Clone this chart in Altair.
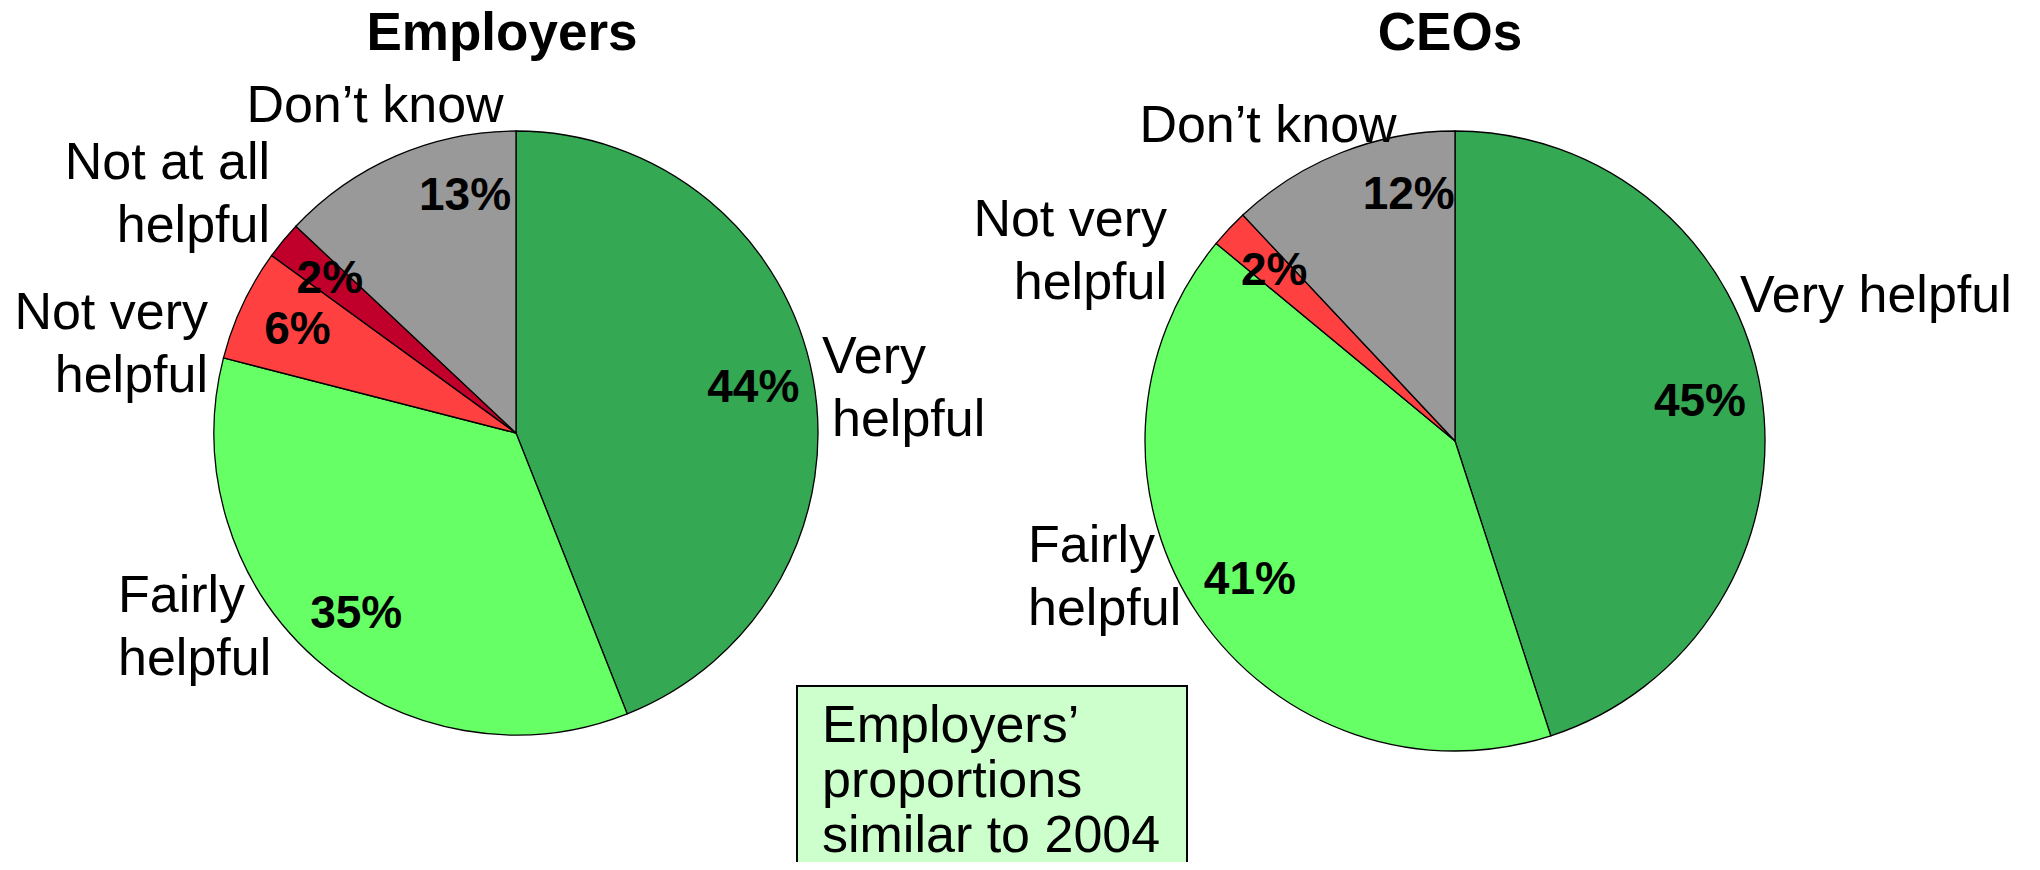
import altair as alt
import pandas as pd

# ---------------- data ----------------
categories = ["Very helpful", "Fairly helpful", "Not very helpful",
              "Not at all helpful", "Don’t know"]
employer_values = [44, 35, 6, 2, 13]

ceo_categories = ["Very helpful", "Fairly helpful", "Not very helpful", "Don’t know"]
ceo_values = [45, 41, 2, 12]

panel_titles = ["Employers", "CEOs"]
note_lines = ["Employers’", "proportions", "similar to 2004"]

# ---------------- style / layout ----------------
slice_colors = ["#35A853", "#66FF66", "#FF4040", "#C0002A", "#999999"]
FONT = "Liberation Sans"
PAGE_W, PAGE_H, M = 2040, 870, 8
W, H = PAGE_W - 2 * M, PAGE_H - 2 * M

pie_layout = {
    "Employers": dict(cx=516, cy=433, r=302, title_x=502),
    "CEOs": dict(cx=1455, cy=441, r=310, title_x=1450),
}
TITLE_BASELINE = 50
SHIFTED_PCT = "Don’t know"      # its percentage label is nudged, as in the original slide
SHIFT_DX, SHIFT_DY = 45, -15

# category label placement: (panel, category) -> (words on first line, x, first baseline, align, 2nd-line x shift)
label_layout = {
    ("Employers", "Don’t know"): (2, 375, 122, "center", 0),
    ("Employers", "Not at all helpful"): (3, 270, 179, "right", 0),
    ("Employers", "Not very helpful"): (2, 208, 329, "right", 0),
    ("Employers", "Very helpful"): (1, 822, 373, "left", 10),
    ("Employers", "Fairly helpful"): (1, 118, 612, "left", 0),
    ("CEOs", "Don’t know"): (2, 1268, 142, "center", 0),
    ("CEOs", "Not very helpful"): (2, 1167, 236, "right", 0),
    ("CEOs", "Very helpful"): (2, 1740, 312, "left", 0),
    ("CEOs", "Fairly helpful"): (1, 1028, 562, "left", 0),
}
LINE_H = 63

box = dict(x=797, x2=1187, y=686, y2=900)
note_x, note_first_baseline, note_line_h = 822, 742, 55

# ---------------- tables ----------------
def pie_frame(cats, vals):
    return pd.DataFrame({
        "category": cats,
        "value": vals,
        "order": list(range(len(cats))),
        "pct": [f"{v}%" for v in vals],
    })

frames = {"Employers": pie_frame(categories, employer_values),
          "CEOs": pie_frame(ceo_categories, ceo_values)}

label_rows = []
for (panel, cat), (nfirst, lx, ly, align, shift) in label_layout.items():
    words = cat.split()
    lines = [" ".join(words[:nfirst])]
    if nfirst < len(words):
        lines.append(" ".join(words[nfirst:]))
    for i, line in enumerate(lines):
        label_rows.append({"text": line, "x": lx + (shift if i else 0),
                           "y": ly + i * LINE_H, "align": align})
labels_df = pd.DataFrame(label_rows)

titles_df = pd.DataFrame({
    "text": panel_titles,
    "x": [pie_layout[t]["title_x"] for t in panel_titles],
    "y": [TITLE_BASELINE] * len(panel_titles),
})

note_df = pd.DataFrame({
    "text": note_lines,
    "x": [note_x] * len(note_lines),
    "y": [note_first_baseline + i * note_line_h for i in range(len(note_lines))],
})
box_df = pd.DataFrame([box])

# ---------------- chart ----------------
xs = alt.Scale(domain=[M, M + W], range=[0, W])
ys = alt.Scale(domain=[M, M + H], range=[0, H])

def pos(df):
    return alt.Chart(df).encode(
        x=alt.X("x:Q", scale=xs, axis=None),
        y=alt.Y("y:Q", scale=ys, axis=None),
    )

layers = []
theta_scale = alt.Scale(domain=[0, 100])
color_scale = alt.Scale(domain=categories, range=slice_colors)
is_shifted = alt.datum.category == SHIFTED_PCT
for name in panel_titles:
    p = pie_layout[name]
    df = frames[name]
    arcs = alt.Chart(df).mark_arc(outerRadius=p["r"], stroke="black", strokeWidth=1.3).encode(
        theta=alt.Theta("value:Q", stack=True, scale=theta_scale),
        order=alt.Order("order:Q"),
        color=alt.Color("category:N", scale=color_scale, legend=None),
        x=alt.value(p["cx"] - M),
        y=alt.value(p["cy"] - M),
    )
    layers.append(arcs)
    for shifted in (False, True):
        mark_kw = dict(radius=0.8 * p["r"], font=FONT, fontSize=46, fontWeight="bold",
                       color="black", align="center", baseline="middle")
        if shifted:
            mark_kw.update(dx=SHIFT_DX, dy=SHIFT_DY)
            text_enc = alt.condition(is_shifted, alt.Text("pct:N"), alt.value(""))
        else:
            text_enc = alt.condition(is_shifted, alt.value(""), alt.Text("pct:N"))
        pct = alt.Chart(df).mark_text(**mark_kw).encode(
            theta=alt.Theta("value:Q", stack=True, scale=theta_scale),
            order=alt.Order("order:Q"),
            text=text_enc,
            x=alt.value(p["cx"] - M),
            y=alt.value(p["cy"] - M),
        )
        layers.append(pct)

for align in ["left", "right", "center"]:
    sub = labels_df[labels_df["align"] == align]
    layers.append(pos(sub).mark_text(
        font=FONT, fontSize=52, color="black", align=align, baseline="alphabetic"
    ).encode(text="text:N"))

layers.append(pos(titles_df).mark_text(
    font=FONT, fontSize=53, fontWeight="bold", color="black",
    align="center", baseline="alphabetic").encode(text="text:N"))

layers.append(alt.Chart(box_df).mark_rect(fill="#CCFFCC", stroke="black", strokeWidth=2).encode(
    x=alt.X("x:Q", scale=xs, axis=None), x2="x2:Q",
    y=alt.Y("y:Q", scale=ys, axis=None), y2="y2:Q",
))
layers.append(pos(note_df).mark_text(
    font=FONT, fontSize=52, color="black", align="left", baseline="alphabetic"
).encode(text="text:N"))

chart = alt.layer(*layers).properties(
    width=W, height=H, padding=0,
    autosize=alt.AutoSizeParams(type="none"),
    background="white",
).configure_view(strokeWidth=0)

chart.save("out.html", embed_options={"renderer": "svg", "actions": False})
